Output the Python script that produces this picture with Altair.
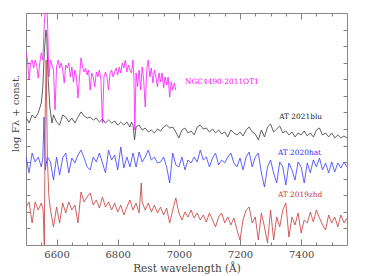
import altair as alt
import pandas as pd

# ---------------- data ----------------
ngc_wl = list(range(6500, 6851, 5)) + [6853, 6856] + list(range(6860, 6991, 5))
ngc_flux = [11.59, 11.16, 9.96, 10.98, 11.16, 10.68, 11.16, 10.86, 10.08, 10.98,
            11.59, 11.16, 13.40, 14.6, 13.76, 10.14, 11.16, 10.86, 10.56, 8.15,
            10.74, 11.16, 10.68, 10.98, 10.56, 9.78, 10.86, 10.68, 10.98, 10.14,
            10.74, 9.84, 10.56, 10.14, 8.87, 10.14, 11.29, 10.74, 10.44, 10.68,
            10.26, 10.56, 9.35, 10.38, 10.14, 9.54, 10.44, 10.14, 10.56, 9.96,
            7.36, 10.14, 10.44, 10.14, 9.35, 10.38, 10.56, 10.14, 10.44, 10.68,
            10.26, 10.74, 10.38, 10.98, 10.68, 11.16, 10.44, 10.86, 10.56, 10.38,
            11.16,
            10.14, 6.94,
            10.38, 9.54, 10.56, 9.35, 10.74, 9.96, 8.33, 10.56, 11.16, 10.14,
            10.68, 9.78, 10.56, 10.14, 9.54, 10.38, 9.84, 10.38, 9.48, 10.14,
            9.66, 10.14, 8.93, 9.84, 9.35, 9.78, 9.35]

blu_wl = ([6500, 6510, 6520, 6530, 6540, 6550, 6555, 6560, 6565, 6568, 6572, 6578, 6585, 6590]
          + list(range(6600, 6841, 10)) + [6845, 6850, 6855] + list(range(6860, 7551, 10)))
blu_flux = [7.72, 7.36, 7.85, 7.66, 7.97, 8.57, 9.54, 11.59, 12.98, 12.55, 10.14, 8.33, 7.36, 7.85,
            7.42, 7.24, 7.85, 7.72, 7.42, 7.66, 7.36, 7.72, 8.03, 7.79,
            7.66, 7.72, 7.54, 7.66, 7.42, 7.60, 7.36, 7.54, 7.36, 7.48,
            7.24, 7.42, 7.24, 7.42, 7.12,
            7.42, 7.24, 6.34,
            7.12, 7.24, 6.94, 7.06, 6.82, 6.94, 6.76, 7.00, 6.88, 7.12,
            7.24, 7.06, 7.12, 6.82, 6.46, 6.94, 7.06, 6.76, 6.88, 6.64,
            7.12, 7.24, 7.00, 7.06, 6.82, 7.00, 6.76, 6.94, 6.70, 6.82,
            6.52, 6.94, 6.76, 6.64, 6.82, 6.58, 6.94, 7.12, 6.82, 6.70,
            6.34, 6.94, 6.52, 7.12, 7.30, 6.82, 7.00, 7.18, 6.76, 6.88,
            6.64, 6.82, 6.52, 6.76, 6.64, 6.88, 6.58, 6.76, 6.52, 6.94,
            7.06, 6.64, 6.76, 6.52, 6.76, 6.46, 6.64, 6.46, 6.58, 6.46]

hat_wl = [6500, 6510, 6520, 6530, 6540, 6550, 6555, 6559, 6563, 6570, 6580] + list(range(6590, 7551, 10))
hat_flux = [5.31, 4.35, 5.55, 5.01, 5.31, 4.71, 5.25, 7.72, 4.53, 5.31, 5.01,
            3.92, 5.31, 4.22, 5.25, 5.55, 4.35, 5.25, 4.95, 5.43, 5.73,
            5.25, 4.71, 4.53, 5.31, 5.01, 5.55, 4.95, 4.35, 5.73, 5.13,
            5.43, 4.53, 5.91, 4.65, 5.31, 4.71, 5.55, 4.71, 5.61, 5.01,
            5.31, 5.73, 5.13, 5.31, 4.95, 5.01, 5.31, 4.71, 3.74, 5.55,
            4.83, 4.71, 5.31, 4.53, 5.13, 4.95, 5.31, 5.01, 5.73, 5.13,
            5.31, 4.71, 5.25, 5.55, 4.83, 5.13, 4.95, 5.31, 5.55, 4.95,
            4.71, 5.25, 4.53, 5.31, 5.61, 4.71, 5.31, 5.55, 4.35, 3.50,
            4.71, 5.13, 4.35, 3.74, 5.01, 4.71, 3.62, 4.95, 4.53, 3.92,
            5.01, 4.71, 3.74, 4.95, 4.35, 5.13, 4.71, 5.25, 4.53, 4.95,
            4.35, 5.01, 4.41, 4.95, 4.65, 5.01, 4.71]

zhd_wl = ([6500, 6510, 6520, 6530, 6540, 6550, 6556, 6560, 6563, 6566, 6570, 6575, 6580]
          + list(range(6590, 6871, 10)) + [6877] + list(range(6880, 7551, 10)))
zhd_flux = [2.29, 2.60, 1.33, 2.60, 2.11, 2.53, 2.11, 0.00, 8.15, 11.16, 5.13, 2.90, 2.11,
            1.09, 2.29, 1.33, 2.53, 1.93, 2.60, 2.11, 2.41, 1.33, 3.20,
            2.60, 2.90, 3.14, 2.41, 2.72, 2.23, 2.90, 2.29, 2.60, 2.11,
            2.53, 1.99, 2.41, 1.81, 2.29, 2.72, 2.11, 2.53, 1.93,
            3.74,
            2.60, 2.11, 2.53, 1.99, 2.41, 1.93, 2.29, 1.81, 2.23, 1.33,
            2.11, 2.84, 1.93, 1.51, 1.99, 1.69, 2.11, 1.63, 1.93, 1.51,
            1.81, 1.39, 1.93, 1.51, 1.09, 1.69, 1.93, 1.33, 1.69, 1.21,
            1.63, 0.91, 0.30, 1.51, 2.11, 2.29, 1.33, 1.69, 0.30, 1.93,
            1.09, 0.12, 2.11, 0.30, 1.69, 1.09, 2.11, 2.53, 0.48, 1.69,
            1.21, 1.93, 0.72, 1.51, 1.33, 1.99, 1.39, 2.11, 1.63, 1.21,
            0.91, 1.81, 1.33, 1.69, 1.09, 1.81, 1.33, 1.63]

names = ["NGC4490-2011OT1", "AT 2021blu", "AT 2020hat", "AT 2019zhd"]
label_wl = [7020, 7328, 7324, 7324]
label_flux = [9.84, 7.72, 5.55, 3.02]

x_labels = [6600, 6800, 7000, 7200, 7400]
x_minor = [6550, 6650, 6700, 6750, 6850, 6900, 6950, 7050, 7100, 7150,
           7250, 7300, 7350, 7450, 7500]
y_ticks = list(range(1, 14))

assert len(ngc_wl) == len(ngc_flux)
assert len(blu_wl) == len(blu_flux)
assert len(hat_wl) == len(hat_flux)
assert len(zhd_wl) == len(zhd_flux)

# ---------------- chart ----------------
X_DOMAIN = [6500, 7550]
Y_DOMAIN = [0, 14]
FONT = "DejaVu Serif"
AXC = "#808080"
TXT = "#444444"
line_colors = ["#ff22ff", "#444444", "#4646ff", "#c84444"]
text_colors = ["#ff00ff", "#222222", "#2a2aff", "#c03434"]

xs = alt.Scale(domain=X_DOMAIN, nice=False, zero=False)
ys = alt.Scale(domain=Y_DOMAIN, nice=False, zero=False)

spectra = [(ngc_wl, ngc_flux), (blu_wl, blu_flux), (hat_wl, hat_flux), (zhd_wl, zhd_flux)]

layers = []
for i, ((wl, fl), col) in enumerate(zip(spectra, line_colors)):
    df = pd.DataFrame({"wl": wl, "flux": fl})
    if i == 0:
        xa = alt.Axis(values=x_labels, ticks=False, domain=False, grid=False,
                      title="Rest wavelength (Å)", format="d",
                      labelFont=FONT, labelFontSize=10, labelColor=TXT, labelPadding=4,
                      titleFont=FONT, titleFontSize=10.5, titleFontWeight="normal",
                      titleColor=TXT, titlePadding=4)
        ya = alt.Axis(labels=False, ticks=False, domain=False, grid=False,
                      title="log Fλ + const.", titleFont=FONT, titleFontSize=10,
                      titleFontWeight="normal", titleColor=TXT,
                      titleX=-11, titleY=100, titleBaseline="middle")
    else:
        xa = None
        ya = None
    layers.append(
        alt.Chart(df).mark_line(color=col, strokeWidth=0.85, clip=True).encode(
            x=alt.X("wl:Q", scale=xs, axis=xa),
            y=alt.Y("flux:Q", scale=ys, axis=ya),
        )
    )

for name, lw, lf, col in zip(names, label_wl, label_flux, text_colors):
    ldf = pd.DataFrame({"wl": [lw], "flux": [lf], "name": [name]})
    layers.append(
        alt.Chart(ldf).mark_text(color=col, align="left", baseline="middle",
                                 font=FONT, fontSize=7.4).encode(
            x=alt.X("wl:Q", scale=xs, axis=None),
            y=alt.Y("flux:Q", scale=ys, axis=None),
            text="name:N",
        )
    )

tick_df = pd.DataFrame({"wl": [X_DOMAIN[0]], "flux": [Y_DOMAIN[0]]})


def tick_layer(x_orient, xvals, xsize, y_orient=None, yvals=None, ysize=4):
    xa = alt.Axis(orient=x_orient, values=xvals, tickSize=xsize, offset=-xsize,
                  labels=False, domain=False, grid=False, title=None,
                  tickColor=AXC, tickWidth=1)
    if y_orient is not None:
        ya = alt.Axis(orient=y_orient, values=yvals, tickSize=ysize, offset=-ysize,
                      labels=False, domain=False, grid=False, title=None,
                      tickColor=AXC, tickWidth=1)
    else:
        ya = None
    return alt.Chart(tick_df).mark_point(opacity=0).encode(
        x=alt.X("wl:Q", scale=xs, axis=xa),
        y=alt.Y("flux:Q", scale=ys, axis=ya),
    )


layers += [
    tick_layer("bottom", x_labels, 6, "left", y_ticks, 4),
    tick_layer("top", x_labels, 6, "right", y_ticks, 4),
    tick_layer("bottom", x_minor, 3),
    tick_layer("top", x_minor, 3),
]

chart = (
    alt.layer(*layers)
    .resolve_axis(x="independent", y="independent")
    .properties(
        width=321,
        height=232,
        padding={"left": 18, "top": 5, "right": 14, "bottom": 30},
        autosize=alt.AutoSizeParams(type="none"),
    )
    .configure_view(stroke="#888888", strokeWidth=1)
)

chart.save("out.html", embed_options={"renderer": "svg", "actions": False})
